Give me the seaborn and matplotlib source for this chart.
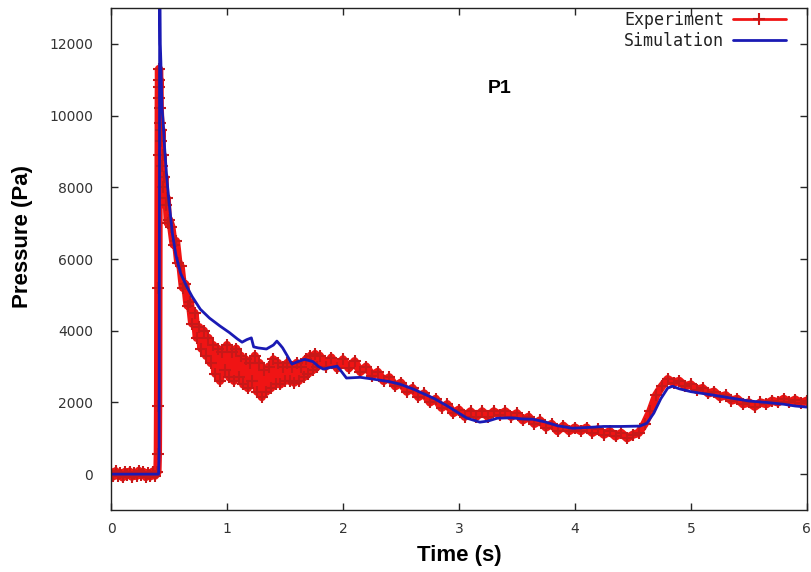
# coding: utf-8
# purpose: pressure at probe P1, experiment vs simulation

import matplotlib
matplotlib.use('Agg')
import matplotlib.pyplot as plt
import seaborn as sns

""" Experiment (measured, noisy) """
exp_time = [0.00, 0.02, 0.04, 0.06, 0.08, 0.10, 0.12, 0.14, 0.16, 0.18, 0.20,
            0.22, 0.24, 0.26, 0.28, 0.30, 0.32, 0.34, 0.36, 0.38, 0.40,
            0.404, 0.406, 0.408, 0.410, 0.412, 0.414, 0.416, 0.418, 0.420,
            0.425, 0.430, 0.435, 0.440, 0.445, 0.450, 0.460, 0.470, 0.480, 0.490, 0.500,
            0.52, 0.54, 0.56, 0.58, 0.60, 0.62, 0.64, 0.66, 0.68, 0.70,
            0.72, 0.74, 0.76, 0.78, 0.80, 0.82, 0.84, 0.86, 0.88, 0.90,
            0.92, 0.94, 0.96, 0.98, 1.00, 1.02, 1.04, 1.06, 1.08, 1.10,
            1.12, 1.14, 1.16, 1.18, 1.20, 1.22, 1.24, 1.26, 1.28, 1.30,
            1.32, 1.34, 1.36, 1.38, 1.40, 1.42, 1.44, 1.46, 1.48, 1.50,
            1.52, 1.54, 1.56, 1.58, 1.60, 1.62, 1.64, 1.66, 1.68, 1.70,
            1.72, 1.74, 1.76, 1.78, 1.80,
            1.85, 1.90, 1.95, 2.00, 2.05, 2.10, 2.15, 2.20, 2.25, 2.30,
            2.35, 2.40, 2.45, 2.50, 2.55, 2.60, 2.65, 2.70, 2.75, 2.80,
            2.85, 2.90, 2.95, 3.00, 3.05, 3.10, 3.15, 3.20, 3.25, 3.30,
            3.35, 3.40, 3.45, 3.50, 3.55, 3.60, 3.65, 3.70, 3.75, 3.80,
            3.85, 3.90, 3.95, 4.00, 4.05, 4.10, 4.15, 4.20, 4.25, 4.30,
            4.35, 4.40, 4.45, 4.50, 4.55, 4.60, 4.65, 4.70, 4.75, 4.80,
            4.85, 4.90, 4.95, 5.00, 5.05, 5.10, 5.15, 5.20, 5.25, 5.30,
            5.35, 5.40, 5.45, 5.50, 5.55, 5.60, 5.65, 5.70, 5.75, 5.80,
            5.85, 5.90, 5.95, 6.00]
exp_pressure = [50, -60, 80, -40, 30, -90, 60, -30, 70, -70, 40,
                -50, 90, -20, 60, -80, 30, -60, 70, -40, 50,
                560, 1900, 5200, 8900, 10500, 11300, 10800, 11000, 10200,
                9800, 9300, 9600, 8600, 8900, 8000, 8300, 7500, 7700, 7000, 7100,
                6900, 6400, 6500, 5900, 5800, 5200, 5300, 4700, 4800, 4200,
                4500, 3800, 4100, 3500, 4000, 3300, 3800, 3100, 3600, 2800,
                3500, 2600, 3400, 2900, 3600, 2700, 3400, 2600, 3500, 2700,
                3300, 2500, 3200, 2400, 3100, 2600, 3300, 2300, 3100, 2150,
                2900, 2300, 3000, 2400, 3200, 2500, 3100, 2500, 3000, 2600,
                3100, 2600, 3000, 2550, 3100, 2600, 3000, 2700, 3200, 2800,
                3300, 2900, 3350, 3000, 3300,
                3000, 3250, 2950, 3200, 2950, 3150, 2850, 3000, 2750, 2850,
                2600, 2700, 2450, 2550, 2300, 2400, 2150, 2250, 2000, 2100,
                1850, 1950, 1700, 1800, 1600, 1750, 1600, 1750, 1600, 1750,
                1650, 1750, 1600, 1700, 1500, 1600, 1400, 1500, 1300, 1400,
                1200, 1350, 1200, 1300, 1200, 1300, 1150, 1250, 1100, 1200,
                1050, 1150, 1000, 1100, 1150, 1400, 1750, 2200, 2450, 2650,
                2550, 2600, 2450, 2500, 2350, 2400, 2250, 2300, 2150, 2200,
                2050, 2100, 1950, 2000, 1880, 2000, 1950, 2050, 2000, 2100,
                2000, 2080, 1980, 2050]

""" Simulation """
sim_time = [0.00, 0.41, 0.415, 0.42, 0.425, 0.43, 0.435, 0.44, 0.45, 0.46,
            0.48, 0.50, 0.53, 0.56, 0.60, 0.65, 0.70, 0.77, 0.85, 0.94,
            1.02, 1.09, 1.13, 1.17, 1.21, 1.23, 1.27, 1.34, 1.40, 1.43,
            1.46, 1.48, 1.52, 1.56, 1.62, 1.67, 1.74, 1.79, 1.83, 1.90,
            1.95, 1.99, 2.03, 2.15, 2.26, 2.40, 2.49, 2.60, 2.78, 2.90,
            3.00, 3.07, 3.18, 3.25, 3.33, 3.45, 3.55, 3.64, 3.75, 3.85,
            3.98, 4.10, 4.25, 4.40, 4.56, 4.62, 4.68, 4.74, 4.80, 4.84,
            4.90, 5.00, 5.08, 5.20, 5.35, 5.50, 5.65, 5.80, 5.90, 6.00]
sim_pressure = [0, 0, 600, 14000, 12000, 11500, 10800, 10200, 9800, 9200,
                8300, 7600, 6700, 6100, 5600, 5250, 4950, 4600, 4350, 4130,
                3950, 3770, 3680, 3750, 3800, 3550, 3520, 3490, 3600, 3710,
                3600, 3520, 3300, 3070, 3150, 3200, 3140, 3000, 2930, 2980,
                3010, 2850, 2680, 2700, 2650, 2580, 2510, 2380, 2120, 1900,
                1700, 1560, 1450, 1480, 1560, 1570, 1540, 1530, 1450, 1350,
                1280, 1300, 1330, 1330, 1340, 1420, 1700, 2100, 2400, 2450,
                2380, 2300, 2260, 2200, 2120, 2040, 2000, 1950, 1900, 1870]

y_ticks = [0, 2000, 4000, 6000, 8000, 10000, 12000]
x_ticks = [0, 1, 2, 3, 4, 5, 6]

""" Draw """
sns.set_style("ticks")
plt.rcParams['font.family'] = ['DejaVu Sans']

fig = plt.figure(figsize=(8.12, 5.72), dpi=100)
ax = fig.add_axes([0.1367, 0.1084, 0.857, 0.8776])

sns.lineplot(x=exp_time, y=exp_pressure, ax=ax, sort=False, estimator=None,
             color='#f01414', linewidth=6, marker='+', markersize=8,
             markeredgewidth=1.5, markeredgecolor='#c81818', label='Experiment')
sns.lineplot(x=sim_time, y=sim_pressure, ax=ax, sort=False, estimator=None,
             color='#1a1ab4', linewidth=2, label='Simulation')

ax.set_xlim(0, 6)
ax.set_ylim(-1000, 13000)
ax.set_xticks(x_ticks)
ax.set_yticks(y_ticks)
ax.tick_params(direction='in', top=True, right=True, length=5, width=1,
               labelsize=10, labelcolor='#333333')
ax.tick_params(axis='x', pad=9)
ax.tick_params(axis='y', pad=13)
for s in ax.spines.values():
    s.set_linewidth(1.0)
    s.set_color('#222222')

ax.set_xlabel('Time (s)', fontsize=16, fontweight='bold', color='black',
              family=['Liberation Sans'])
ax.set_ylabel('Pressure (Pa)', fontsize=16, fontweight='bold', color='black',
              family=['Liberation Sans'])
ax.xaxis.set_label_coords(0.5, -0.07)
ax.yaxis.set_label_coords(-0.112, 0.544)

ax.text(0.559, 0.840, 'P1', transform=ax.transAxes, ha='center', va='center',
        fontsize=14, fontweight='bold', color='black', family=['Liberation Sans'])

leg = ax.legend(loc='upper right', bbox_to_anchor=(0.97, 0.994), frameon=False,
                markerfirst=False, borderaxespad=0, borderpad=0, handlelength=3.2,
                labelspacing=0.15, handletextpad=0.5,
                prop={'family': 'DejaVu Sans Mono', 'size': 12})
for t in leg.get_texts():
    t.set_color('#222222')
for h in leg.legend_handles:
    h.set_linewidth(2)

plt.savefig('out.png', dpi=100)
